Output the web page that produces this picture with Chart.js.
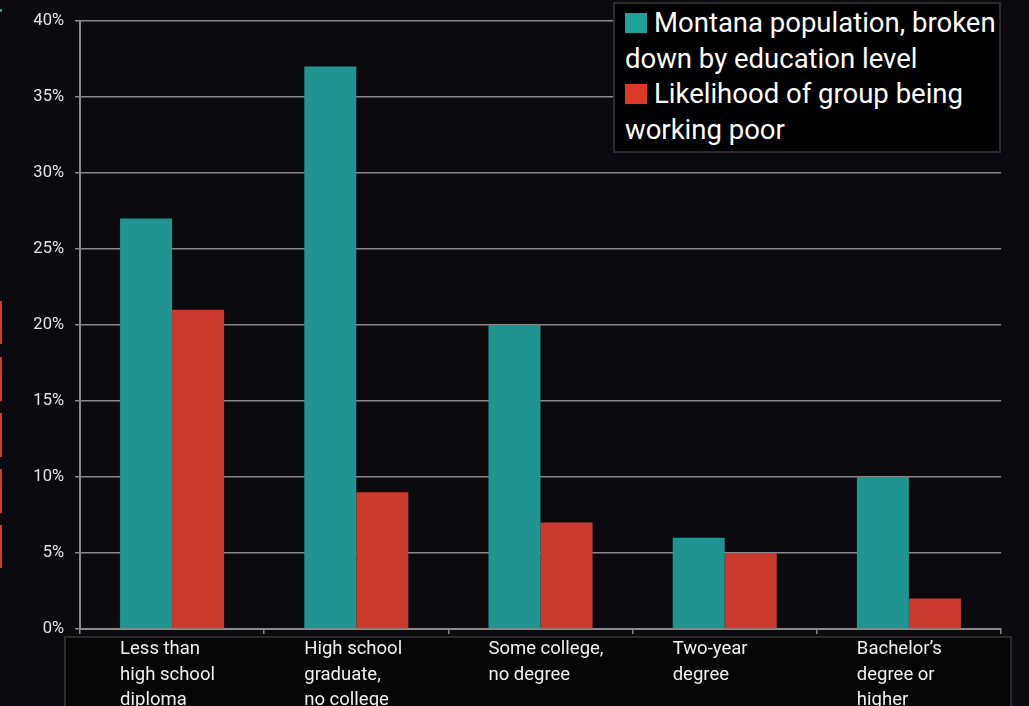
<!DOCTYPE html>
<html lang="en">
<head>
<meta charset="UTF-8">
<title>Montana working poor by education</title>
<script src="https://cdn.jsdelivr.net/npm/chart.js"></script>
<style>
  body { margin: 0; background: #0a0a0f; font-family: "Liberation Sans Narrow", Roboto, "Liberation Sans", sans-serif; }
  #wrap { position: relative; width: 1029px; height: 706px; overflow: hidden; }
  #legend {
    position: absolute; left: 613px; top: 2px; width: 388px; height: 151px;
    background: #000; border: 2px solid #2c2c2c; color: #fff;
    font-size: 27.5px; line-height: 35.5px; padding: 1px 0 0 10px; box-sizing: border-box;
    white-space: nowrap;
  }
  .sw { display: inline-block; width: 22px; height: 20px; margin-right: 7px; vertical-align: -1px; }
  .edge { position: absolute; left: 0; width: 2px; background: #d8392a; }
</style>
</head>
<body>
<div id="wrap">
  <canvas id="chart" width="1029" height="706"></canvas>
  <div id="legend">
    <span class="sw" style="background:#20a09b"></span>Montana population, broken<br>
    down by education level<br>
    <span class="sw" style="background:#dc3a27"></span>Likelihood of group being<br>
    working poor
  </div>
  <!-- slide edge artifacts -->
  <div class="edge" style="top:301px;height:43px"></div>
  <div class="edge" style="top:357px;height:44px"></div>
  <div class="edge" style="top:413px;height:44px"></div>
  <div class="edge" style="top:469px;height:44px"></div>
  <div class="edge" style="top:525px;height:43px"></div>
  <div class="edge" style="top:9px;height:3px;background:#20a09b"></div>
</div>
<script>
// data
const categories = [
    ["Less than", "high school", "diploma"],
    ["High school", "graduate,", "no college"],
    ["Some college,", "no degree"],
    ["Two-year", "degree"],
    ["Bachelor\u2019s", "degree or", "higher"]
];
const populationShare = [27, 37, 20, 6, 10];
const workingPoorShare = [21, 9, 7, 5, 2];
const yTickStep = 5;
const yMax = 40;

const gridColor = "#8a8a8a";
const fontFamily = "'Liberation Sans Narrow', Roboto, 'Liberation Sans', sans-serif";

// background + the black box holding the category labels
const backdrop = {
    id: "backdrop",
    beforeDraw(chart) {
        const ctx = chart.ctx;
        ctx.save();
        ctx.fillStyle = "#0a0a0f";
        ctx.fillRect(0, 0, chart.width, chart.height);
        ctx.fillStyle = "#050505";
        ctx.fillRect(65, 637, 946, 80);
        ctx.strokeStyle = "#2a2a2a";
        ctx.lineWidth = 2;
        ctx.strokeRect(65, 637, 946, 80);
        ctx.restore();
    }
};

// left aligned category labels, starting at the first bar of each group
const catLabels = {
    id: "catLabels",
    afterDraw(chart) {
        const ctx = chart.ctx;
        const x = chart.scales.x;
        const half = chart.getDatasetMeta(0).data[0].width;
        ctx.save();
        ctx.fillStyle = "#f0f0f0";
        ctx.font = "18.5px " + fontFamily;
        ctx.textAlign = "left";
        ctx.textBaseline = "alphabetic";
        categories.forEach((lines, i) => {
            const left = x.getPixelForValue(i) - half;
            lines.forEach((t, j) => ctx.fillText(t, left, 654 + j * 25.5));
        });
        ctx.restore();
    }
};

new Chart("chart", {
    type: "bar",
    data: {
        labels: categories,
        datasets: [
            { label: "Montana population, broken down by education level", data: populationShare, backgroundColor: "#1f9490" },
            { label: "Likelihood of group being working poor", data: workingPoorShare, backgroundColor: "#cb3a2d" }
        ]
    },
    options: {
        responsive: false,
        animation: false,
        events: [],
        categoryPercentage: 0.565,
        barPercentage: 1,
        layout: { padding: { top: 20, right: 28, left: 0, bottom: 0 } },
        plugins: { legend: { display: false }, tooltip: { enabled: false } },
        scales: {
            x: {
                afterFit: s => { s.height = 77; },
                grid: { drawOnChartArea: false, drawTicks: true, tickLength: 5, color: gridColor, lineWidth: 1.5 },
                border: { color: gridColor, width: 2 },
                ticks: { display: false }
            },
            y: {
                min: 0,
                max: yMax,
                afterFit: s => { s.width = 80; },
                ticks: {
                    stepSize: yTickStep,
                    color: "#e4e4e4",
                    padding: 11,
                    font: { size: 16.5, family: fontFamily },
                    callback: v => v + "%"
                },
                grid: { color: gridColor, lineWidth: 1.5, tickLength: 5 },
                border: { color: gridColor, width: 2 }
            }
        }
    },
    plugins: [backdrop, catLabels]
});
</script>
</body>
</html>
